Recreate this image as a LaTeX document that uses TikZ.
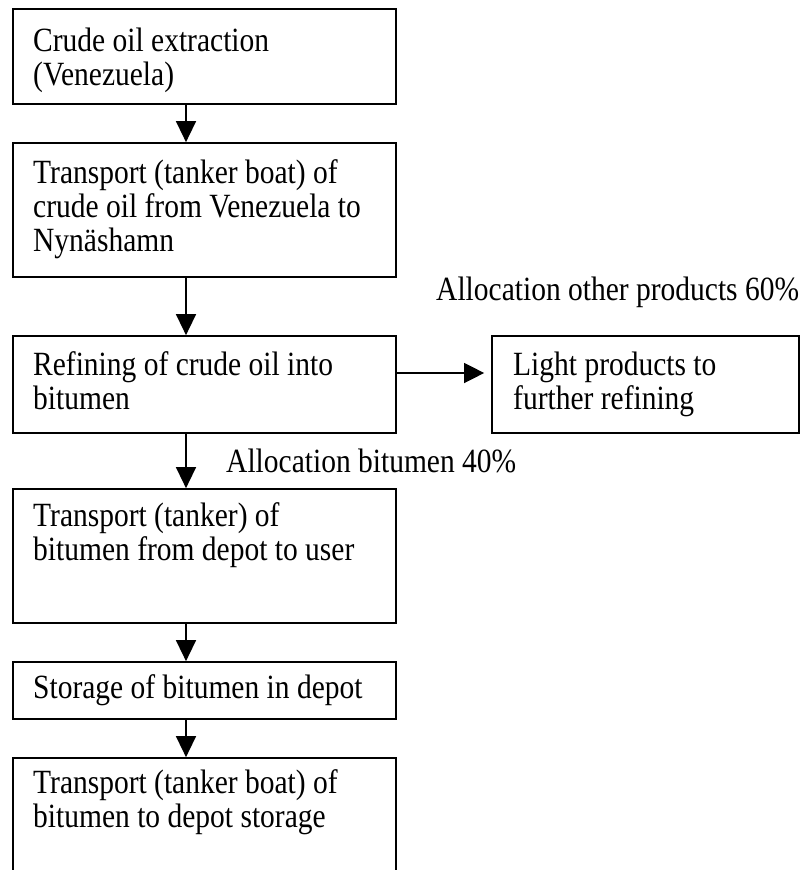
\documentclass[tikz,border=0pt]{standalone}
\usepackage{fontspec}
\setmainfont{Liberation Serif}
\usetikzlibrary{arrows.meta}
\newcommand{\vs}[1]{\scalebox{1}[1.15]{#1}}
\newcommand{\fl}{\rule{0pt}{26pt}}
\begin{document}
\begin{tikzpicture}[x=1pt,y=-1pt,
  box/.style={draw, line width=1.7pt, inner sep=0pt, minimum width=383pt},
  txt/.style={anchor=north west, inner sep=0pt, align=left, font=\fontsize{29.5}{34}\selectfont},
  lbl/.style={anchor=base west, inner sep=0pt, font=\fontsize{29.5}{34}\selectfont},
  arr/.style={line width=1.4pt, -{Triangle[length=21pt,width=20pt]}}
]
\lineskiplimit=-100pt\relax
\useasboundingbox (0,0) rectangle (804,870);
\clip (0,0) rectangle (804,870);
% boxes
\node[box, minimum height=95pt]  (b1) at (204.5,56.5) {};
\node[box, minimum height=134pt] (b2) at (204.5,210) {};
\node[box, minimum height=97pt]  (b3) at (204.5,384.5) {};
\node[box, minimum height=97pt, minimum width=307pt] (b4) at (645.5,384.5) {};
\node[box, minimum height=134pt] (b5) at (204.5,556) {};
\node[box, minimum height=57pt]  (b6) at (204.5,690.5) {};
\node[box, minimum height=122pt] (b7) at (204.5,819) {};
% texts
\node[txt] (t1) at (33,25)  {\fl\vs{Crude oil extraction}\\\vs{(Venezuela)}};
\node[txt] (t2) at (33,157) {\fl\vs{Transport (tanker boat) of}\\\vs{crude oil from Venezuela to}\\\vs{Nynäshamn}};
\node[txt] (t3) at (33,349) {\fl\vs{Refining of crude oil into}\\\vs{bitumen}};
\node[txt] (t4) at (513,349) {\fl\vs{Light products to}\\\vs{further refining}};
\node[txt] (t5) at (33,500) {\fl\vs{Transport (tanker) of}\\\vs{bitumen from depot to user}};
\node[txt] (t6) at (33,672) {\fl\vs{Storage of bitumen in depot}};
\node[txt] (t7) at (33,767) {\fl\vs{Transport (tanker boat) of}\\\vs{bitumen to depot storage}};
% labels
\node[lbl] (l1) at (436,300) {\vs{Allocation other products 60\%}};
\node[lbl] (l2) at (226,472) {\vs{Allocation bitumen 40\%}};
% connectors
\coordinate (ax) at (186,0);
\coordinate (ay) at (0,373);
\draw[arr] (ax |- b1.south) -- (ax |- b2.north);
\draw[arr] (ax |- b2.south) -- (ax |- b3.north);
\draw[arr] (ax |- b3.south) -- (ax |- b5.north);
\draw[arr] (ax |- b5.south) -- (ax |- b6.north);
\draw[arr] (ax |- b6.south) -- (ax |- b7.north);
\draw[arr, shorten >=7pt, -{Triangle[length=20pt,width=20pt]}] (ay -| b3.east) -- (ay -| b4.west);
\end{tikzpicture}
\end{document}
